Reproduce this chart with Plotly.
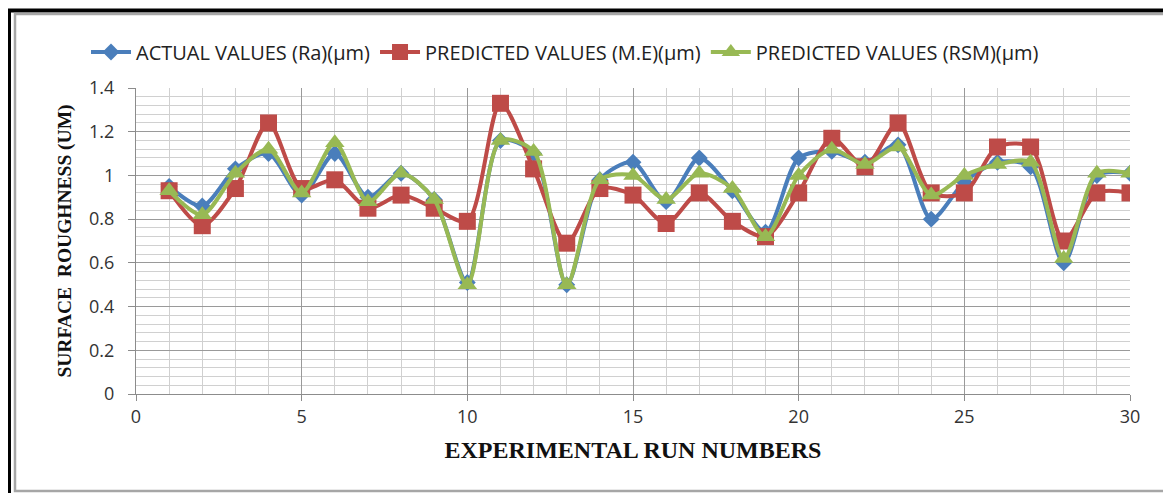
import plotly.graph_objects as go

runs = list(range(1, 31))
actual = [0.95, 0.86, 1.03, 1.10, 0.91, 1.10, 0.90, 1.01, 0.89, 0.51,
          1.16, 1.10, 0.50, 0.98, 1.06, 0.88, 1.08, 0.93, 0.74, 1.08,
          1.11, 1.06, 1.14, 0.80, 0.97, 1.06, 1.04, 0.60, 1.00, 1.01]
pred_me = [0.93, 0.77, 0.94, 1.24, 0.94, 0.98, 0.85, 0.91, 0.85, 0.79,
           1.33, 1.03, 0.69, 0.94, 0.91, 0.78, 0.92, 0.79, 0.72, 0.92,
           1.17, 1.04, 1.24, 0.92, 0.92, 1.13, 1.13, 0.70, 0.92, 0.92]
pred_rsm = [0.93, 0.82, 1.01, 1.12, 0.92, 1.15, 0.88, 1.01, 0.89, 0.50,
            1.16, 1.11, 0.50, 0.98, 1.00, 0.89, 1.01, 0.94, 0.72, 1.00,
            1.12, 1.05, 1.13, 0.91, 1.00, 1.05, 1.06, 0.62, 1.01, 1.01]

names = ["ACTUAL VALUES (Ra)(\u03bcm)", "PREDICTED VALUES (M.E)(\u03bcm)", "PREDICTED VALUES (RSM)(\u03bcm)"]
colors = ["#4A7EBB", "#BE4B48", "#98B954"]
symbols = ["diamond", "square", "triangle-up"]
sizes = [13, 17, 17]
series = [actual, pred_me, pred_rsm]

fig = go.Figure()
for name, vals, c, s, sz in zip(names, series, colors, symbols, sizes):
    fig.add_trace(go.Scatter(
        x=runs, y=vals, name=name, mode="lines+markers",
        line=dict(color=c, width=4, shape="spline", smoothing=0.8),
        marker=dict(symbol=s, size=sz, color=c),
    ))

# page has an 8px body margin, so work in shifted coordinates
OFF = 8
W, H = 1171 - OFF, 493 - OFF
L, R, T, B = 136 - OFF, 1130 - OFF, 88 - OFF, 394 - OFF
def px(x):
    return (x - OFF - L) / (R - L)
def py(y):
    return (B - (y - OFF)) / (B - T)

shapes = [
    dict(type="line", xref="paper", yref="paper", x0=px(6), x1=px(1171), y0=py(10.5), y1=py(10.5),
         line=dict(color="black", width=4)),
    dict(type="line", xref="paper", yref="paper", x0=px(9), x1=px(9), y0=py(9), y1=py(493),
         line=dict(color="black", width=4)),
    dict(type="rect", xref="paper", yref="paper", x0=px(15), x1=px(1167.5), y0=py(491), y1=py(14),
         line=dict(color="#a6a6a6", width=2.5)),
]

fig.update_layout(
    width=W, height=H,
    margin=dict(l=L, r=W - R, t=T, b=H - B, pad=0),
    paper_bgcolor="white", plot_bgcolor="white",
    shapes=shapes,
    showlegend=True,
    legend=dict(orientation="h", x=px(565), xanchor="center", y=py(52), yanchor="middle",
                font=dict(family="Open Sans", size=20, color="#222"),
                itemwidth=40, tracegroupgap=0, bgcolor="rgba(0,0,0,0)"),
    xaxis=dict(range=[0, 30], dtick=5, tick0=0, showgrid=True, gridcolor="#9a9a9a", gridwidth=1,
               minor=dict(dtick=1, showgrid=True, gridcolor="#d0d0d0", gridwidth=1),
               showline=True, linecolor="#8c8c8c", linewidth=1, ticks="outside", ticklen=6,
               tickcolor="#8c8c8c", zeroline=False,
               tickfont=dict(family="Open Sans", size=18, color="#333"),
               title=dict(text="<b>EXPERIMENTAL RUN NUMBERS</b>", standoff=14,
                          font=dict(family="Liberation Serif", size=24, color="#111"))),
    yaxis=dict(range=[0, 1.4], dtick=0.2, tick0=0, showgrid=True, gridcolor="#9a9a9a", gridwidth=1,
               minor=dict(dtick=0.04, showgrid=True, gridcolor="#d0d0d0", gridwidth=1),
               showline=True, linecolor="#8c8c8c", linewidth=1, ticks="outside", ticklen=7,
               tickcolor="#8c8c8c", zeroline=False, ticklabelstandoff=10,
               tickfont=dict(family="Open Sans", size=18, color="#333"),
               title=dict(text="<b>SURFACE  ROUGHNESS (UM)</b>", standoff=12,
                          font=dict(family="Liberation Serif", size=19.5, color="#111"))),
)

fig.write_html("out.html")
